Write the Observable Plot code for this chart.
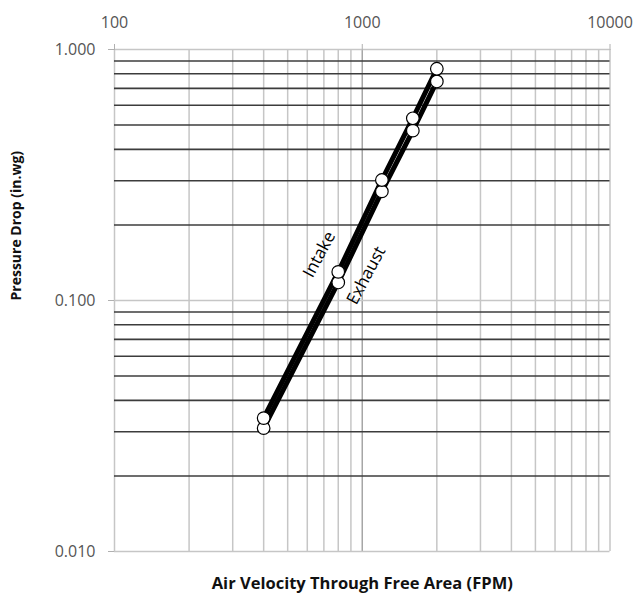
<!DOCTYPE html>
<html>
<head>
<meta charset="utf-8">
<script src="https://cdn.jsdelivr.net/npm/d3@7"></script>
<script src="https://cdn.jsdelivr.net/npm/@observablehq/plot@0.6"></script>
<style>
  html, body { margin: 0; padding: 0; background: #fff; }
  #chart svg { display: block; }
</style>
</head>
<body>
<div id="chart"></div>
<script>
// Air velocity (FPM) sample points
const velocity = [400, 800, 1200, 1600, 2000];
// Pressure drop (in. wg) per series
const intake  = [0.034, 0.130, 0.302, 0.532, 0.838];
const exhaust = [0.031, 0.118, 0.272, 0.475, 0.746];

// Axis ticks and grid values
const xTicks = [100, 1000, 10000];
const xMinor = [200, 300, 400, 500, 600, 700, 800, 900, 2000, 3000, 4000, 5000, 6000, 7000, 8000, 9000];
const yTicks = [0.01, 0.1, 1];
const yMinor = [0.02, 0.03, 0.04, 0.05, 0.06, 0.07, 0.08, 0.09, 0.2, 0.3, 0.4, 0.5, 0.6, 0.7, 0.8, 0.9];

// Series labels (annotation anchors in data units)
const seriesLabels = [
  {text: "Intake", x: 671, y: 0.1525},
  {text: "Exhaust", x: 1038, y: 0.1258}
];

const intakeData = velocity.map((v, i) => ({x: v, y: intake[i]}));
const exhaustData = velocity.map((v, i) => ({x: v, y: exhaust[i]}));

const font = "'Open Sans', 'DejaVu Sans', sans-serif";

const chart = Plot.plot({
  width: 635,
  height: 596,
  marginLeft: 114,
  marginRight: 25.5,
  marginTop: 49,
  marginBottom: 45,
  style: {fontFamily: font, fontSize: "16px", background: "#fff"},
  x: {type: "log", domain: [100, 10000]},
  y: {type: "log", domain: [0.01, 1]},
  marks: [
    // vertical grid
    Plot.ruleX(xMinor, {stroke: "#c6c6c6", strokeWidth: 1.5}),
    Plot.ruleX([100, 10000], {stroke: "#c6c6c6", strokeWidth: 1.5}),
    Plot.ruleX([1000], {stroke: "#a6a6a6", strokeWidth: 1.5}),
    // horizontal grid
    Plot.ruleY(yTicks, {stroke: "#c6c6c6", strokeWidth: 1.5}),
    Plot.ruleY(yMinor, {stroke: "#3c3c3c", strokeWidth: 1.6}),
    // axes
    Plot.axisX(xTicks, {anchor: "top", tickSize: 6, tickPadding: 16, stroke: "#b0b0b0",
      fill: "#555", tickFormat: d3.format("d"), fontSize: 16, label: null}),
    Plot.axisY(yTicks, {anchor: "left", tickSize: 6, tickPadding: 13, stroke: "#b0b0b0",
      fill: "#555", tickFormat: d3.format(".3f"), fontSize: 16, label: null}),
    // series lines
    Plot.line(exhaustData, {x: "x", y: "y", stroke: "#000", strokeWidth: 5}),
    Plot.line(intakeData, {x: "x", y: "y", stroke: "#000", strokeWidth: 5}),
    // markers
    Plot.dot(exhaustData, {x: "x", y: "y", r: 6.3, fill: "#fff", stroke: "#000", strokeWidth: 1.2}),
    Plot.dot(intakeData, {x: "x", y: "y", r: 6.3, fill: "#fff", stroke: "#000", strokeWidth: 1.2}),
    // series labels
    Plot.text(seriesLabels, {x: "x", y: "y", text: "text", rotate: -62, fontSize: 17,
      fill: "#000", textAnchor: "middle"}),
    // axis titles
    Plot.text(["Air Velocity Through Free Area (FPM)"], {frameAnchor: "bottom", dy: 37,
      text: d => d, fontSize: 16.5, fontWeight: "bold", fill: "#111", x: () => 1000}),
    Plot.text(["Pressure Drop (in.wg)"], {frameAnchor: "left", dx: -98,
      text: d => d, rotate: -90, fontSize: 14, fontWeight: "bold", fill: "#111"})
  ]
});

document.getElementById("chart").appendChild(chart);
</script>
</body>
</html>
